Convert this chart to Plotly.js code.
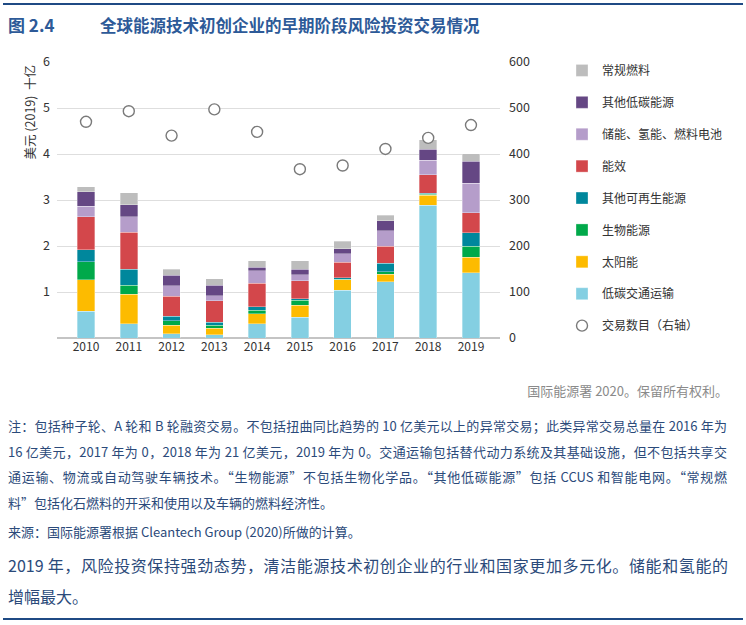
<!DOCTYPE html>
<html>
<head>
<meta charset="utf-8">
<script src="https://cdn.plot.ly/plotly-3.0.1.min.js"></script>
<style>
  html, body { margin:0; padding:0; background:#fff; }
  body { width:746px; height:625px; position:relative; overflow:hidden;
         font-family:"Noto Sans CJK SC","Noto Sans",sans-serif; }
  .abs { position:absolute; }
  .rule { position:absolute; left:3px; width:740px; height:2px; background:#1f4a84; }
  .note { left:8px; width:719px; font-size:13px; line-height:25.7px; color:#2b4a7a; }
  .note div.j { text-align:justify; text-align-last:justify; }
</style>
</head>
<body>
<div class="rule" style="top:3px"></div>
<div class="abs" style="left:8px; top:14px; line-height:22px; font-size:17px; font-weight:bold; color:#2d5a98;">图 2.4</div>
<div class="abs" style="left:100px; top:14px; line-height:22px; font-size:16.5px; font-weight:bold; color:#2d5a98;">全球能源技术初创企业的早期阶段风险投资交易情况</div>

<div class="abs" style="right:18px; top:381px; line-height:20px; font-size:13px; color:#8a8a8a;">国际能源署 2020。保留所有权利。</div>

<div class="abs note" style="top:413px;">
  <div class="j">注：包括种子轮、A 轮和 B 轮融资交易。不包括扭曲同比趋势的 10 亿美元以上的异常交易；此类异常交易总量在 2016 年为</div>
  <div class="j">16 亿美元，2017 年为 0，2018 年为 21 亿美元，2019 年为 0。交通运输包括替代动力系统及其基础设施，但不包括共享交</div>
  <div class="j">通运输、物流或自动驾驶车辆技术。“生物能源”不包括生物化学品。“其他低碳能源”包括 CCUS 和智能电网。“常规燃</div>
  <div>料”包括化石燃料的开采和使用以及车辆的燃料经济性。</div>
</div>
<div class="abs" style="left:8px; top:522px; line-height:20px; font-size:13px; color:#2b4a7a;">来源：国际能源署根据 Cleantech Group (2020)所做的计算。</div>
<div class="abs" style="left:8px; top:550px; width:720px; line-height:31px; font-size:16px; color:#2b4a7a;">
  <div style="text-align:justify; text-align-last:justify; white-space:nowrap;">2019 年，风险投资保持强劲态势，清洁能源技术初创企业的行业和国家更加多元化。储能和氢能的</div>
  <div>增幅最大。</div>
</div>
<div class="rule" style="top:618px"></div>

<div id="chart" class="abs" style="left:0; top:0; width:746px; height:625px;"></div>

<script>
// ---- data ----
const years = ['2010','2011','2012','2013','2014','2015','2016','2017','2018','2019'];

const seriesNames = ['低碳交通运输','太阳能','生物能源','其他可再生能源','能效','储能、氢能、燃料电池','其他低碳能源','常规燃料'];
const seriesColors = ['#84cfe2','#fdbb00','#00a94a','#00879c','#d3474b','#b59dca','#654784','#bdbdbd'];

const lowCarbonTransport = [0.58,0.31,0.09,0.07,0.31,0.45,1.04,1.22,2.89,1.42];
const solar              = [0.69,0.64,0.19,0.14,0.22,0.26,0.23,0.17,0.21,0.34];
const bioenergy          = [0.39,0.20,0.10,0.07,0.07,0.11,0.01,0.05,0.02,0.24];
const otherRenewables    = [0.26,0.34,0.09,0.06,0.08,0.03,0.03,0.19,0.03,0.29];
const efficiency         = [0.72,0.81,0.44,0.47,0.51,0.39,0.34,0.37,0.40,0.43];
const storageHydrogen    = [0.22,0.34,0.23,0.11,0.27,0.14,0.18,0.33,0.31,0.64];
const otherLowCarbon     = [0.32,0.26,0.22,0.23,0.08,0.11,0.11,0.22,0.24,0.48];
const conventionalFuels  = [0.11,0.26,0.13,0.14,0.14,0.19,0.16,0.12,0.21,0.17];

const dealCount = [470,493,440,497,448,367,375,411,435,463];
const dealName = '交易数目（右轴）';

const leftTicks = [1,2,3,4,5,6];
const rightTicks = [0,100,200,300,400,500,600];

// ---- traces ----
const series = [lowCarbonTransport, solar, bioenergy, otherRenewables, efficiency, storageHydrogen, otherLowCarbon, conventionalFuels];
const traces = series.map((vals, i) => ({
  type:'bar', x:years, y:vals, name:seriesNames[i],
  marker:{color:seriesColors[i], line:{color:'rgba(255,255,255,0.55)', width:0.6}},
  legendgroup:'g'+i, legendrank: 8 - i,
  hoverinfo:'none'
}));
traces.push({
  type:'scatter', mode:'markers', x:years, y:dealCount, yaxis:'y2', name:dealName,
  marker:{symbol:'circle', size:11, color:'#ffffff', line:{color:'#7a7a7a', width:1.4}},
  legendgroup:'g9', legendrank: 9, hoverinfo:'none'
});

const font = {family:'"Noto Sans CJK SC","Noto Sans",sans-serif', size:12, color:'#333'};

const layout = {
  width:746, height:625,
  margin:{l:57, r:246, t:62, b:287},
  paper_bgcolor:'rgba(0,0,0,0)', plot_bgcolor:'rgba(0,0,0,0)',
  font:font,
  barmode:'stack', bargap:0.59,
  showlegend:true,
  legend:{x:1.14, xanchor:'left', y:1.022, yanchor:'top', traceorder:'grouped',
          tracegroupgap:12.9, itemwidth:30, font:{...font, size:12, color:'#333'},
          bgcolor:'rgba(0,0,0,0)', maxheight:1},
  xaxis:{type:'category', showgrid:false, showline:false, ticks:'', tickfont:{...font, size:12, color:'#333'}},
  yaxis:{range:[0,6], tickvals:leftTicks, showgrid:true, gridcolor:'#dedede', gridwidth:1,
         zeroline:true, zerolinecolor:'#c4c4c4', zerolinewidth:2, ticks:'', ticklabelstandoff:6,
         tickfont:{...font, size:12.5, color:'#333'}},
  yaxis2:{range:[0,600], tickvals:rightTicks, overlaying:'y', side:'right', showgrid:false,
          zeroline:false, ticks:'', ticklabelstandoff:8, tickfont:{...font, size:12.5, color:'#333'}},
  annotations:[{
    text:'美元 (2019)  十亿', textangle:-90, xref:'paper', yref:'paper',
    x:-0.061, y:1.0, xanchor:'center', yanchor:'top', showarrow:false,
    font:{...font, size:12.5, color:'#333'}
  }]
};

Plotly.newPlot('chart', traces, layout, {staticPlot:true, displayModeBar:false});
</script>
</body>
</html>
